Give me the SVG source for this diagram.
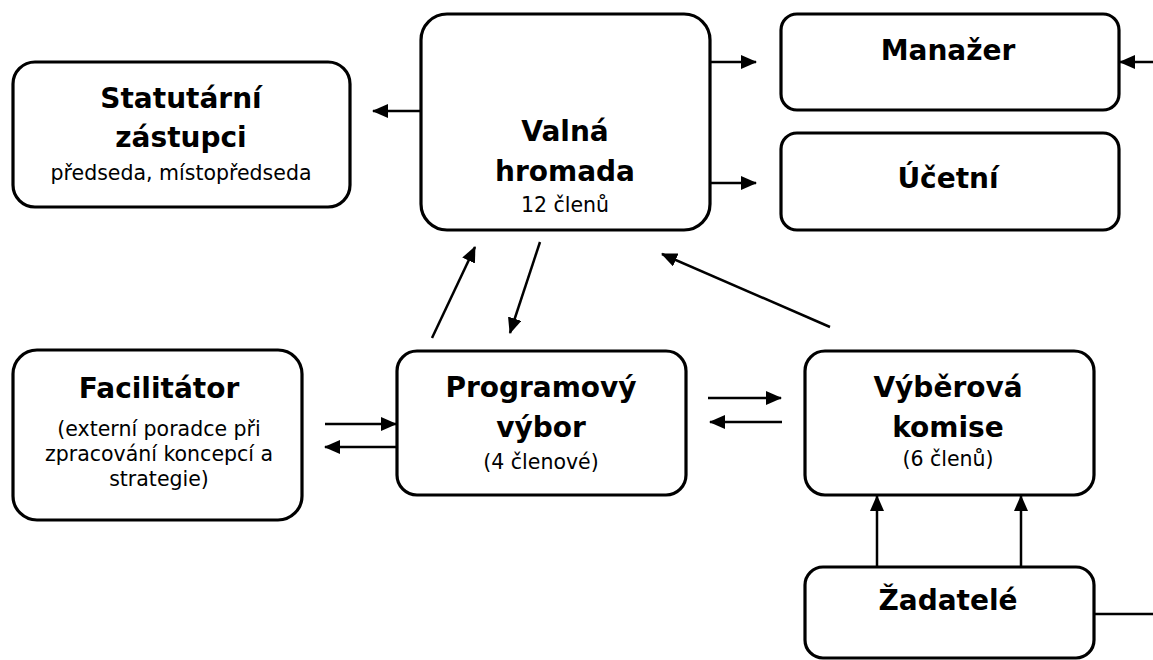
<svg xmlns="http://www.w3.org/2000/svg" width="1153" height="660" viewBox="0 0 1153 660">
<defs>
<marker id="ah" markerUnits="userSpaceOnUse" markerWidth="16" markerHeight="14" refX="15" refY="7" orient="auto">
<path d="M0,0 L16,7 L0,14 Z" fill="#000"/>
</marker>
<style>
.box{fill:#fff;stroke:#000;stroke-width:3.2}
.b{font-family:"DejaVu Sans","Verdana",sans-serif;font-weight:bold;font-size:28px;text-anchor:middle;fill:#000}
.r{font-family:"DejaVu Sans","Verdana",sans-serif;font-size:20.5px;text-anchor:middle;fill:#000}
.c{stroke:#000;stroke-width:2.5;fill:none}
.a{marker-end:url(#ah)}
</style>
</defs>
<rect width="1153" height="660" fill="#fff"/>
<g id="statutarni">
<rect class="box" x="13" y="62" width="337" height="145" rx="22"/>
<text class="b" x="181" y="108">Statutární</text>
<text class="b" x="181" y="147">zástupci</text>
<text class="r" x="181" y="180">předseda, místopředseda</text>
</g>
<g id="valna">
<rect class="box" x="421" y="14" width="289" height="216" rx="26"/>
<text class="b" x="565" y="141">Valná</text>
<text class="b" x="565" y="181">hromada</text>
<text class="r" x="565" y="212">12 členů</text>
</g>
<g id="manazer">
<rect class="box" x="781" y="14" width="338" height="96" rx="16"/>
<text class="b" x="948" y="60">Manažer</text>
</g>
<g id="ucetni">
<rect class="box" x="781" y="133" width="338" height="97" rx="16"/>
<text class="b" x="948" y="188">Účetní</text>
</g>
<g id="facilitator">
<rect class="box" x="13" y="350" width="289" height="170" rx="24"/>
<text class="b" x="159" y="398">Facilitátor</text>
<text class="r" x="159" y="436">(externí poradce při</text>
<text class="r" x="159" y="461">zpracování koncepcí a</text>
<text class="r" x="159" y="486">strategie)</text>
</g>
<g id="programovy">
<rect class="box" x="397" y="351" width="289" height="144" rx="20"/>
<text class="b" x="541" y="397">Programový</text>
<text class="b" x="541" y="437">výbor</text>
<text class="r" x="541" y="469">(4 členové)</text>
</g>
<g id="vyberova">
<rect class="box" x="805" y="351" width="289" height="144" rx="20"/>
<text class="b" x="948" y="397">Výběrová</text>
<text class="b" x="948" y="437">komise</text>
<text class="r" x="948" y="466">(6 členů)</text>
</g>
<g id="zadatele">
<rect class="box" x="805" y="567" width="289" height="91" rx="18"/>
<text class="b" x="948" y="610">Žadatelé</text>
</g>
<g id="connectors">
<line class="c a" x1="421" y1="111" x2="373" y2="111"/>
<line class="c a" x1="710" y1="62" x2="756" y2="62"/>
<line class="c a" x1="710" y1="183" x2="756" y2="183"/>
<line class="c a" x1="1153" y1="62" x2="1120" y2="62"/>
<line class="c a" x1="432" y1="338" x2="475" y2="247"/>
<line class="c a" x1="540" y1="242" x2="510" y2="333"/>
<line class="c a" x1="830" y1="327" x2="662" y2="254"/>
<line class="c a" x1="325" y1="424" x2="396" y2="424"/>
<line class="c a" x1="396" y1="447" x2="325" y2="447"/>
<line class="c a" x1="708" y1="398" x2="781" y2="398"/>
<line class="c a" x1="782" y1="422" x2="710" y2="422"/>
<line class="c a" x1="877" y1="566" x2="877" y2="496"/>
<line class="c a" x1="1021" y1="566" x2="1021" y2="496"/>
<line class="c" x1="1094" y1="614" x2="1153" y2="614"/>
</g>
</svg>
